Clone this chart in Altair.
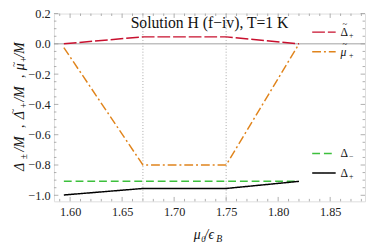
import altair as alt
import pandas as pd

# ---- data ----
mu0 = [1.594, 1.670, 1.750, 1.820]
delta_tilde_plus = [0.0, 0.046, 0.046, 0.0]
mu_tilde_plus = [-0.025, -0.80, -0.80, 0.0]
delta_minus = [-0.908, -0.908, -0.908, -0.908]
delta_plus = [-0.998, -0.955, -0.955, -0.908]
vlines = [1.67, 1.75]

x_major = [1.60, 1.65, 1.70, 1.75, 1.80, 1.85]
x_minor = [round(1.59 + 0.01 * i, 2) for i in range(30)]
x_minor = [v for v in x_minor if all(abs(v - m) > 1e-9 for m in x_major)]
y_major = [-1.0, -0.8, -0.6, -0.4, -0.2, 0.0, 0.2]
y_minor = [round(-1.0 + 0.05 * i, 2) for i in range(25)]
y_minor = [v for v in y_minor if all(abs(v - m) > 1e-9 for m in y_major)]

title_text = "Solution H (f\u2212iv), T=1 K"
# legend labels: (base symbol, tilde?, subscript, italic?)
legend_labels = [("\u0394", True, "+", False), ("\u03bc", True, "+", True),
                 ("\u0394", False, "\u2212", False), ("\u0394", False, "+", False)]

# ---- style ----
W, H = 318, 192
FONT = "Liberation Serif"
TICK = "#9a9a9a"
TXT = "#111111"
series = [
    (delta_tilde_plus, "#c8102e", [13, 3]),
    (mu_tilde_plus, "#e0841c", [9, 3, 2, 3]),
    (delta_minus, "#3cc03c", [8, 4]),
    (delta_plus, "#000000", [1, 0]),
]

xs = alt.Scale(domain=[1.5845, 1.8835], nice=False, zero=False)
ys = alt.Scale(domain=[-1.04, 0.2], nice=False, zero=False)
x_axis = alt.Axis(values=x_major, format=".2f", title="", ticks=False, domain=False, grid=False,
                  labelFont=FONT, labelFontSize=12.5, labelColor="#222222", labelPadding=4)
y_axis = alt.Axis(values=y_major, format=".1f", title="", ticks=False, domain=False, grid=False,
                  labelFont=FONT, labelFontSize=12.5, labelColor="#222222", labelPadding=4)


def X(f="x"):
    return alt.X(f"{f}:Q", scale=xs, axis=x_axis)


def Y(f="y"):
    return alt.Y(f"{f}:Q", scale=ys, axis=y_axis)


def txt(s, x, y, size, italic=False, align="left", angle=0):
    kw = dict(font=FONT, fontSize=size, color=TXT, align=align, baseline="middle")
    if italic:
        kw["fontStyle"] = "italic"
    if angle:
        kw["angle"] = angle
    return alt.Chart(pd.DataFrame({"t": [s]})).mark_text(**kw).encode(
        text="t:N", x=alt.value(x), y=alt.value(y))


layers = []

# tick marks (inward, on all four sides)
for vals, ln in [(y_major, 4.5), (y_minor, 2.5)]:
    d = pd.DataFrame({"y": vals})
    layers.append(alt.Chart(d).mark_rule(color=TICK, strokeWidth=0.8).encode(
        y=Y(), x=alt.value(0), x2=alt.value(ln)))
    layers.append(alt.Chart(d).mark_rule(color=TICK, strokeWidth=0.8).encode(
        y=Y(), x=alt.value(W), x2=alt.value(W - ln)))
for vals, ln in [(x_major, 4.5), (x_minor, 2.5)]:
    d = pd.DataFrame({"x": vals})
    layers.append(alt.Chart(d).mark_rule(color=TICK, strokeWidth=0.8).encode(
        x=X(), y=alt.value(H), y2=alt.value(H - ln)))
    layers.append(alt.Chart(d).mark_rule(color=TICK, strokeWidth=0.8).encode(
        x=X(), y=alt.value(0), y2=alt.value(ln)))

# zero line
layers.append(alt.Chart(pd.DataFrame({"y": [0.0]})).mark_rule(color="#a0a0a0", strokeWidth=1).encode(y=Y()))
# dotted vertical lines
layers.append(alt.Chart(pd.DataFrame({"x": vlines})).mark_rule(
    color="#a8a8a8", strokeWidth=1, strokeDash=[1, 2]).encode(x=X()))

# series
for vals, col, dash in series:
    d = pd.DataFrame({"x": mu0, "y": vals})
    layers.append(alt.Chart(d).mark_line(color=col, strokeDash=dash, strokeWidth=1.5, clip=True).encode(
        x=X(), y=Y()))

# title inside plot
layers.append(txt(title_text, 159, 10, 16, align="center"))

# legend (manual)
leg_y = [19, 39, 143, 163]
for (vals, col, dash), (base, tilde, sub, ital), ly in zip(series, legend_labels, leg_y):
    layers.append(alt.Chart(pd.DataFrame({"t": [base]})).mark_rule(
        color=col, strokeDash=dash, strokeWidth=1.5).encode(
        x=alt.value(264), x2=alt.value(288), y=alt.value(ly)))
    layers.append(txt(base, 293, ly, 12, italic=ital))
    if tilde:
        layers.append(txt("~", 297.5, ly - 8, 9, align="center"))
    layers.append(txt(sub, 301.5, ly + 4, 8))

# y axis title, composed and rotated (reads bottom to top)
YT_X = -35
def ytxt(s, page_y, size, dx=0):
    return txt(s, YT_X + dx, page_y - 11, size, italic=True, angle=270)

layers += [
    ytxt("\u0394", 172, 14),
    ytxt("\u00b1", 160, 9.5, dx=4),
    ytxt("/M", 152, 14),
    ytxt(",", 128, 14),
    ytxt("\u0394", 119, 14),
    ytxt("~", 114, 10, dx=-6.5),
    ytxt("+", 108, 9.5, dx=4),
    ytxt("/M", 101, 14),
    ytxt(",", 77, 14),
    ytxt("\u03bc", 69, 14),
    ytxt("~", 66, 10, dx=-5.5),
    ytxt("+", 61, 9.5, dx=4),
    ytxt("/M", 56, 14),
]

# x axis title, composed
layers += [
    txt("\u03bc", 143, 227, 14, italic=True),
    txt("0", 150.5, 230.5, 9, italic=True),
    txt("/\u03f5", 154, 227, 14, italic=True),
    txt("B", 166, 230.5, 10, italic=True),
]

chart = alt.layer(*layers).properties(
    width=W, height=H,
    autosize=alt.AutoSizeParams(type="none"),
    padding={"left": 47, "top": 3, "right": 1, "bottom": 44},
).configure_view(stroke="#a8a8a8", strokeWidth=1).configure(background="white")

chart.save("out.html", embed_options={"renderer": "svg", "actions": False})
